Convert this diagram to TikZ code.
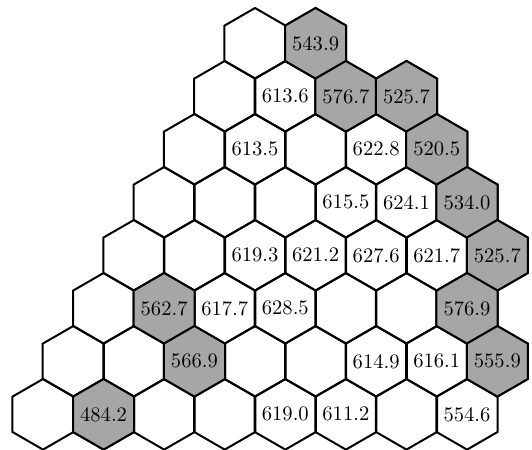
\documentclass[tikz,border=0pt]{standalone}
\usepackage{tikz}
\usetikzlibrary{shapes.geometric}

\begin{document}
\begin{tikzpicture}[
  x=0.5pt, y=-0.5pt,
  hexcell/.style={regular polygon, regular polygon sides=6,
                  shape border rotate=30, draw=black, line width=1pt,
                  minimum size=35.3pt, inner sep=0pt},
  dark/.style={hexcell, fill=black!35},
  val/.style={inner sep=0pt, font=\fontsize{10.3}{12}\selectfont}
]
\useasboundingbox (0,0) rectangle (532,450);

% the grid, row by row from the top
\foreach \r/\n in {1/2,2/4,3/5,4/6,5/7,6/7,7/8,8/8}{
  \foreach \j in {1,...,\n}{
    \pgfmathtruncatemacro{\k}{8-\r+2*(\j-1)}
    \node[hexcell] (h\r-\k) at ({43+30.29*\k},{43.3+53*(\r-1)}) {};
  }
}

% shaded cells
\foreach \r/\k in {1/9,2/10,2/12,3/13,4/14,5/15,6/4,6/14,7/5,7/15,8/2}
  \node[dark] (s\r-\k) at (h\r-\k) {};

\node[val] (v1-9)  at (h1-9)  {543.9};
\node[val] (v2-8)  at (h2-8)  {613.6};
\node[val] (v2-10) at (h2-10) {576.7};
\node[val] (v2-12) at (h2-12) {525.7};
\node[val] (v3-7)  at (h3-7)  {613.5};
\node[val] (v3-11) at (h3-11) {622.8};
\node[val] (v3-13) at (h3-13) {520.5};
\node[val] (v4-10) at (h4-10) {615.5};
\node[val] (v4-12) at (h4-12) {624.1};
\node[val] (v4-14) at (h4-14) {534.0};
\node[val] (v5-7)  at (h5-7)  {619.3};
\node[val] (v5-9)  at (h5-9)  {621.2};
\node[val] (v5-11) at (h5-11) {627.6};
\node[val] (v5-13) at (h5-13) {621.7};
\node[val] (v5-15) at (h5-15) {525.7};
\node[val] (v6-4)  at (h6-4)  {562.7};
\node[val] (v6-6)  at (h6-6)  {617.7};
\node[val] (v6-8)  at (h6-8)  {628.5};
\node[val] (v6-14) at (h6-14) {576.9};
\node[val] (v7-5)  at (h7-5)  {566.9};
\node[val] (v7-11) at (h7-11) {614.9};
\node[val] (v7-13) at (h7-13) {616.1};
\node[val] (v7-15) at (h7-15) {555.9};
\node[val] (v8-2)  at (h8-2)  {484.2};
\node[val] (v8-8)  at (h8-8)  {619.0};
\node[val] (v8-10) at (h8-10) {611.2};
\node[val] (v8-14) at (h8-14) {554.6};

\end{tikzpicture}
\end{document}
